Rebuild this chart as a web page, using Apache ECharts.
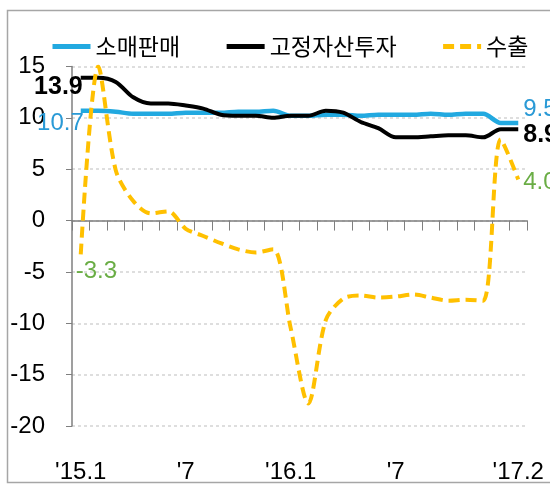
<!DOCTYPE html>
<html>
<head>
    <meta charset="utf-8">
    <title>소매판매 · 고정자산투자 · 수출</title>
    <script src="https://cdn.jsdelivr.net/npm/echarts@6/dist/echarts.min.js"></script>
    <style>
        html, body { margin: 0; padding: 0; background: #fff; }
        #chart1 { width: 550px; height: 484px; }
    </style>
</head>
<body>
<div id="chart1"></div>
<script type="text/javascript">
    // 월별 누계 증가율 (%), '15.1 ~ '17.2
    var months = ["'15.1", "'15.2", "'15.3", "'15.4", "'15.5", "'15.6", "'15.7", "'15.8", "'15.9", "'15.10", "'15.11", "'15.12",
                  "'16.1", "'16.2", "'16.3", "'16.4", "'16.5", "'16.6", "'16.7", "'16.8", "'16.9", "'16.10", "'16.11", "'16.12",
                  "'17.1", "'17.2"];
    var retail = [10.7, 10.7, 10.6, 10.4, 10.4, 10.4, 10.5, 10.5, 10.5, 10.6, 10.6, 10.7,
                  10.2, 10.2, 10.3, 10.3, 10.2, 10.3, 10.3, 10.3, 10.4, 10.3, 10.4, 10.4,
                  9.5, 9.5];
    var invest = [13.9, 13.9, 13.5, 12.0, 11.4, 11.4, 11.2, 10.9, 10.3, 10.2, 10.2, 10.0,
                  10.2, 10.2, 10.7, 10.5, 9.6, 9.0, 8.1, 8.1, 8.2, 8.3, 8.3, 8.1,
                  8.9, 8.9];
    var exportGrowth = [-3.3, 15.0, 4.9, 1.9, 0.7, 0.9, -0.8, -1.5, -2.2, -2.8, -3.1, -2.8,
                        -10.5, -17.8, -9.7, -7.6, -7.3, -7.5, -7.4, -7.2, -7.5, -7.8, -7.7, -7.8,
                        7.9, 4.0];
    // x축에 표시할 눈금 라벨
    var tickIndex = [0, 6, 12, 18, 25];
    var tickText = ["'15.1", "'7", "'16.1", "'7", "'17.2"];

    var numFont = "'Liberation Sans', Arial, sans-serif";
    var krFont = "'Noto Sans CJK KR', sans-serif";

    // 첫/마지막 값에 라벨 붙이기
    function withEndLabels(values, first, last) {
        return values.map(function (v, i) {
            var lab = i === 0 ? first : (i === values.length - 1 ? last : null);
            if (!lab) return v;
            return {
                value: v,
                symbol: 'circle',
                symbolSize: 0,
                label: Object.assign({
                    show: true,
                    fontFamily: numFont,
                    fontSize: 24,
                    formatter: v.toFixed(1)
                }, lab)
            };
        });
    }

    var myChart1 = echarts.init(document.getElementById('chart1'));
    myChart1.setOption({
        animation: false,
        backgroundColor: '#fff',
        graphic: [{
            type: 'rect',
            silent: true,
            z: -10,
            shape: { x: 7.5, y: 10.5, width: 600, height: 472 },
            style: { fill: 'none', stroke: '#a6a6a6', lineWidth: 1.5 }
        }],
        legend: {
            top: 30,
            left: 45,
            itemWidth: 38,
            itemHeight: 14,
            itemGap: 44,
            itemStyle: { opacity: 0 },
            lineStyle: { width: 5 },
            textStyle: { fontFamily: krFont, fontSize: 23, color: '#000' },
            data: ['소매판매', '고정자산투자', '수출']
        },
        grid: { left: 72, right: 23, top: 66.5, bottom: 57 },
        xAxis: [{
            type: 'category',
            data: months,
            boundaryGap: true,
            axisLine: { onZero: true, lineStyle: { color: '#7f7f7f', width: 1.5 } },
            axisTick: { show: true, length: 10, interval: 0, lineStyle: { color: '#7f7f7f' } },
            axisLabel: { show: false },
            splitLine: { show: false }
        }, {
            type: 'category',
            data: months,
            position: 'bottom',
            boundaryGap: true,
            axisLine: { show: false, onZero: false },
            axisTick: { show: false },
            splitLine: { show: false },
            axisLabel: {
                margin: 34,
                fontFamily: numFont,
                fontSize: 24,
                color: '#000',
                interval: function (i) { return tickIndex.indexOf(i) >= 0; },
                formatter: function (v, i) { return tickText[tickIndex.indexOf(i)]; }
            }
        }],
        yAxis: {
            type: 'value',
            min: -20,
            max: 15,
            interval: 5,
            axisLine: { show: true, lineStyle: { color: '#7f7f7f', width: 1.5 } },
            axisTick: { show: true, length: 6, lineStyle: { color: '#7f7f7f' } },
            axisLabel: { margin: 27, fontFamily: numFont, fontSize: 24, color: '#000' },
            splitLine: { lineStyle: { type: [3, 3], color: '#d4d4d4', width: 1.5 } }
        },
        series: [{
            name: '소매판매',
            type: 'line',
            smooth: 0.3,
            symbol: 'none',
            color: '#22a9e0',
            lineStyle: { width: 4.5, color: '#22a9e0' },
            data: withEndLabels(retail,
                { position: 'left', distance: 0, offset: [3, 13], color: '#2a9ad6' },
                { position: 'right', distance: 5, offset: [0, -14], color: '#2a9ad6' })
        }, {
            name: '고정자산투자',
            type: 'line',
            smooth: 0.3,
            symbol: 'none',
            color: '#000',
            lineStyle: { width: 4, color: '#000' },
            data: withEndLabels(invest,
                { position: 'left', distance: 0, offset: [2, 9], color: '#000', fontWeight: 'bold', fontSize: 25 },
                { position: 'right', distance: 5, offset: [0, 6], color: '#000', fontWeight: 'bold', fontSize: 25 })
        }, {
            name: '수출',
            type: 'line',
            smooth: 0.3,
            symbol: 'none',
            color: '#ffc000',
            lineStyle: { width: 4, color: '#ffc000', type: [11, 6] },
            data: withEndLabels(exportGrowth,
                { position: 'right', distance: 0, offset: [-5, 17], color: '#6aad45' },
                { position: 'right', distance: 5, offset: [0, 3], color: '#6aad45' })
        }]
    });
</script>
</body>
</html>
